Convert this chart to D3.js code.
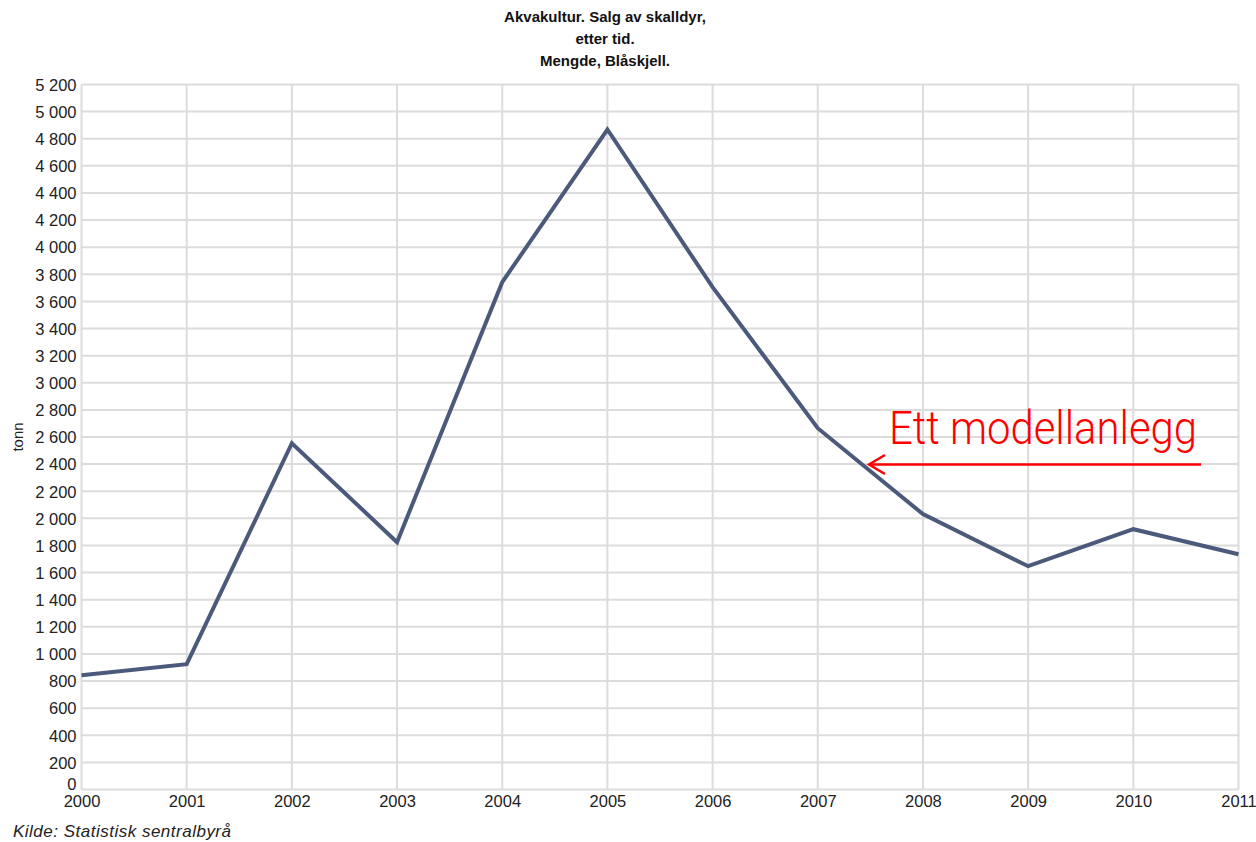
<!DOCTYPE html>
<html lang="no">
<head>
  <meta charset="UTF-8">
  <title>Akvakultur. Salg av skalldyr</title>
  <script src="https://d3js.org/d3.v7.min.js"></script>
  <style>
    body { margin: 0; background: #fff; }
    svg { display: block; }
    .tick text { font-family: "Liberation Sans", Arial, sans-serif; font-size: 16.5px; fill: #222; }
  </style>
</head>
<body>
  <svg width="1256" height="842"></svg>
  <script>
  // values (tonn)
  const years = [2000, 2001, 2002, 2003, 2004, 2005, 2006, 2007, 2008, 2009, 2010, 2011];
  const tonn = [843, 924, 2554, 1824, 3742, 4868, 3705, 2665, 2031, 1647, 1920, 1735];
  const titleLines = ["Akvakultur. Salg av skalldyr,", "etter tid.", "Mengde, Blåskjell."];
  const yTicks = d3.range(0, 5201, 200);

  const svg = d3.select("svg");
  const plotLeft = 81.5, plotRight = 1238.5, plotTop = 84.5, plotBottom = 789.5;

  const x = d3.scaleLinear().domain([2000, 2011]).range([plotLeft, plotRight]);
  const y = d3.scaleLinear().domain([0, 5200]).range([plotBottom, plotTop]);

  // grid
  svg.append("g")
    .selectAll("line")
    .data(yTicks)
    .join("line")
    .attr("x1", plotLeft).attr("x2", plotRight)
    .attr("y1", d => y(d)).attr("y2", d => y(d))
    .attr("stroke", "#dcdcdc").attr("stroke-width", 2);

  svg.append("g")
    .selectAll("line")
    .data(years)
    .join("line")
    .attr("x1", d => x(d)).attr("x2", d => x(d))
    .attr("y1", plotTop).attr("y2", plotBottom)
    .attr("stroke", "#dcdcdc").attr("stroke-width", 2);

  // y axis labels
  const fmt = d => d3.format(",")(d).replace(/,/g, " ");
  const yAxis = svg.append("g")
    .attr("transform", `translate(${plotLeft - 5},0)`)
    .call(d3.axisLeft(y).tickValues(yTicks).tickFormat(fmt).tickSize(0).tickPadding(0));
  yAxis.select(".domain").remove();
  yAxis.selectAll("text").attr("dy", d => d === 0 ? "0em" : "0.35em");

  // x axis labels
  const xAxis = svg.append("g")
    .attr("transform", `translate(0,${plotBottom + 5})`)
    .call(d3.axisBottom(x).tickValues(years).tickFormat(d3.format("d")).tickSize(0).tickPadding(0));
  xAxis.select(".domain").remove();
  xAxis.selectAll("text").attr("dy", "0.75em");

  // line
  svg.append("path")
    .datum(years.map((yr, i) => [yr, tonn[i]]))
    .attr("fill", "none")
    .attr("stroke", "#4b5a7b")
    .attr("stroke-width", 4)
    .attr("stroke-linejoin", "miter")
    .attr("d", d3.line().x(d => x(d[0])).y(d => y(d[1])));

  // title
  svg.append("g")
    .selectAll("text")
    .data(titleLines)
    .join("text")
    .attr("x", 605)
    .attr("y", (d, i) => 22 + i * 22)
    .attr("text-anchor", "middle")
    .attr("font-family", "Liberation Sans, Arial, sans-serif")
    .attr("font-weight", "bold")
    .attr("font-size", "15px")
    .attr("fill", "#111")
    .text(d => d);

  // y title
  svg.append("text")
    .attr("transform", "translate(23,437) rotate(-90)")
    .attr("text-anchor", "middle")
    .attr("font-family", "Liberation Sans, Arial, sans-serif")
    .attr("font-size", "15px")
    .attr("fill", "#222")
    .text("tonn");

  // source
  svg.append("text")
    .attr("x", 13).attr("y", 837)
    .attr("font-family", "Liberation Sans, Arial, sans-serif")
    .attr("font-style", "italic")
    .attr("font-size", "17px")
    .attr("textLength", 218)
    .attr("fill", "#222")
    .text("Kilde: Statistisk sentralbyrå");

  // annotation
  svg.append("text")
    .attr("x", 889).attr("y", 444)
    .attr("font-family", "Roboto, sans-serif")
    .attr("font-weight", 300)
    .attr("font-size", "46px")
    .attr("textLength", 308)
    .attr("lengthAdjust", "spacingAndGlyphs")
    .attr("fill", "#ff0000")
    .text("Ett modellanlegg");

  svg.append("line")
    .attr("x1", 1201).attr("x2", 870)
    .attr("y1", 464.5).attr("y2", 464.5)
    .attr("stroke", "#ff0000").attr("stroke-width", 2.5);
  svg.append("path")
    .attr("d", "M885,455 L869,464.5 L885,474")
    .attr("fill", "none")
    .attr("stroke", "#ff0000").attr("stroke-width", 2.5);
  </script>
</body>
</html>
